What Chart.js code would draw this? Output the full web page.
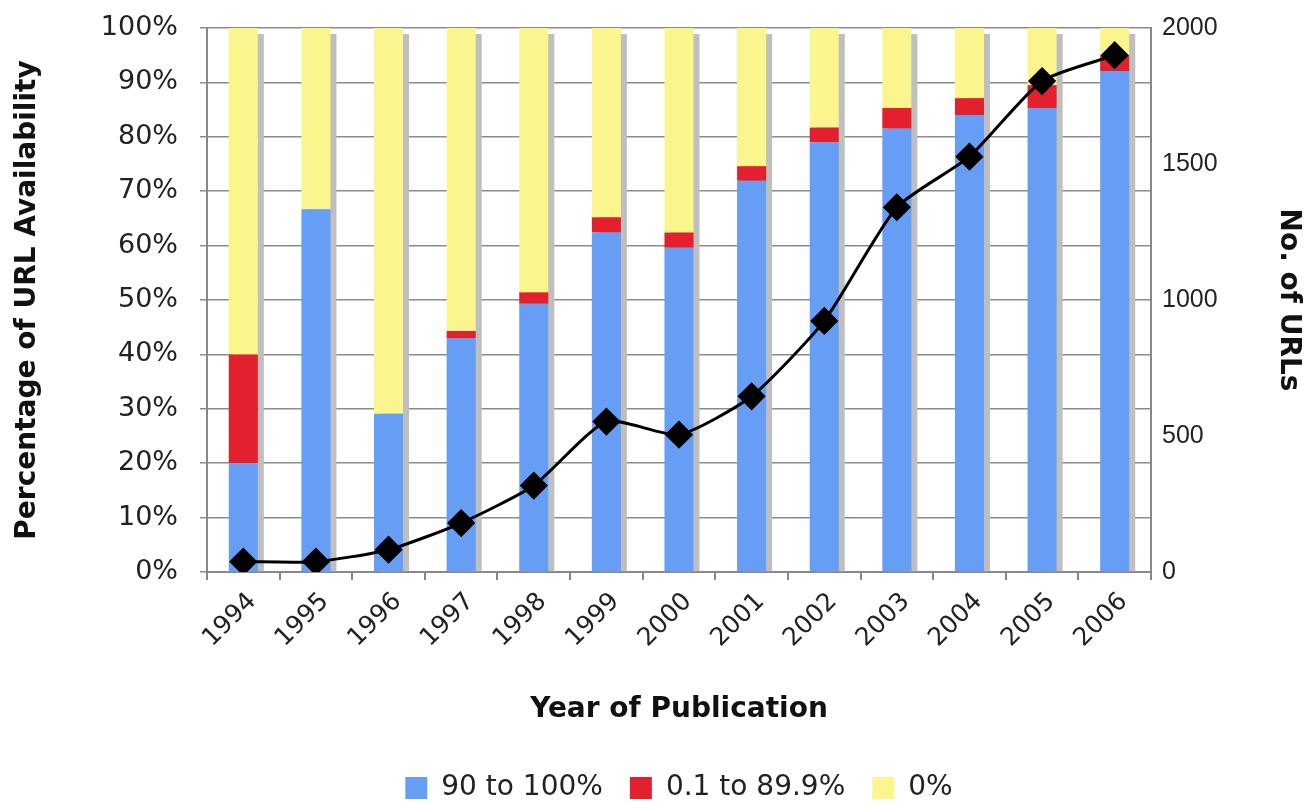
<!DOCTYPE html>
<html>
<head>
<meta charset="utf-8">
<script src="https://cdn.jsdelivr.net/npm/chart.js@4/dist/chart.umd.min.js"></script>
<style>
  html, body { margin: 0; padding: 0; background: #fff; }
</style>
</head>
<body>
<canvas id="canvas" width="1305" height="803"></canvas>
<script>
const years = ['1994', '1995', '1996', '1997', '1998', '1999', '2000', '2001', '2002', '2003', '2004', '2005', '2006']

// share of URLs per availability band (%)
const full = [20, 66.7, 29.1, 43, 49.3, 62.4, 59.6, 71.9, 79, 81.5, 84, 85.3, 92.1]
const partial = [20, 0, 0, 1.3, 2.1, 2.8, 2.8, 2.7, 2.7, 3.8, 3.1, 4.2, 2.9]
const none = [60, 33.3, 70.9, 55.7, 48.6, 34.8, 37.6, 25.4, 18.3, 14.7, 12.9, 10.5, 5]

// number of URLs (right axis)
const urlCounts = [38, 38, 82, 180, 318, 553, 505, 646, 923, 1341, 1527, 1805, 1900]

const pctTicks = [0, 10, 20, 30, 40, 50, 60, 70, 80, 90, 100]
const countTicks = [0, 500, 1000, 1500, 2000]

const titleFont = { family: 'DejaVu Sans', size: 28, weight: 'bold' }

// grey drop shadow to the right of each stacked bar
const barShadow = {
  id: 'barShadow',
  beforeDatasetsDraw(chart) {
    const ctx = chart.ctx
    const tops = chart.getDatasetMeta(2).data
    const bottoms = chart.getDatasetMeta(0).data
    ctx.save()
    ctx.fillStyle = '#bfbfbf'
    tops.forEach((bar, i) => {
      const p = bar.getProps(['x', 'y', 'width'], true)
      const base = bottoms[i].getProps(['base'], true).base
      ctx.fillRect(p.x - p.width / 2 + 6, p.y + 6, p.width, base - p.y - 6)
    })
    ctx.restore()
  }
}

// keep the tick padding from pushing the plot area down
const noEdgePad = s => { s.paddingTop = 0; s.paddingBottom = 0 }

const data = {
  labels: years,
  datasets: [
    {
      type: 'bar',
      label: '90 to 100%',
      data: full,
      backgroundColor: '#669ef5',
      yAxisID: 'y',
      order: 1,
    },
    {
      type: 'bar',
      label: '0.1 to 89.9%',
      data: partial,
      backgroundColor: '#e3202d',
      yAxisID: 'y',
      order: 1,
    },
    {
      type: 'bar',
      label: '0%',
      data: none,
      backgroundColor: '#faf58c',
      yAxisID: 'y',
      order: 1,
    },
    {
      type: 'line',
      label: 'No. of URLs',
      data: urlCounts,
      borderColor: '#000',
      backgroundColor: '#000',
      borderWidth: 3,
      pointStyle: 'rectRot',
      pointRadius: 12,
      tension: 0.2,
      yAxisID: 'y1',
      order: 0,
    },
  ],
}

const config = {
  type: 'bar',
  data: data,
  plugins: [barShadow],
  options: {
    responsive: false,
    animation: false,
    layout: { padding: { top: 28, left: 0, right: 0, bottom: -9 } },
    datasets: { bar: { barPercentage: 0.4, categoryPercentage: 1 } },
    plugins: {
      tooltip: { enabled: false },
      legend: {
        position: 'bottom',
        fullSize: false,
        labels: {
          font: { family: 'DejaVu Sans', size: 28 },
          color: '#222',
          boxWidth: 22,
          boxHeight: 22,
          padding: 27,
          filter: item => item.datasetIndex < 3,
        },
      },
    },
    scales: {
      x: {
        stacked: true,
        offset: true,
        grid: { offset: true, drawOnChartArea: false, tickLength: 8, color: '#888', lineWidth: 2 },
        border: { color: '#888', width: 2 },
        ticks: { font: { family: 'DejaVu Sans', size: 25 }, color: '#222', minRotation: 45, maxRotation: 45, padding: 7, labelOffset: 9 },
        title: { display: true, text: 'Year of Publication', font: titleFont, color: '#111', padding: { top: 0, bottom: 20 } },
        afterFit: s => { s.height = 175 },
      },
      y: {
        stacked: true,
        min: 0,
        max: 100,
        afterBuildTicks: s => { s.ticks = pctTicks.map(v => ({ value: v })) },
        ticks: { font: { family: 'DejaVu Sans', size: 27 }, color: '#222', padding: 22, callback: v => v + '%' },
        grid: { color: '#8c8c8c', lineWidth: 1.5, tickLength: 7 },
        border: { color: '#888', width: 2 },
        title: { display: true, text: 'Percentage of URL Availability', font: titleFont, color: '#111', padding: { top: 11, bottom: 0 } },
        afterFit: s => { s.width = 207; noEdgePad(s) },
      },
      y1: {
        position: 'right',
        min: 0,
        max: 2000,
        afterBuildTicks: s => { s.ticks = countTicks.map(v => ({ value: v })) },
        ticks: { font: { family: 'Liberation Sans', size: 25 }, color: '#222', padding: 11, callback: v => String(v) },
        grid: { drawOnChartArea: false, drawTicks: false },
        border: { color: '#888', width: 2 },
        title: { display: true, text: 'No. of URLs', font: titleFont, color: '#111', padding: { top: 0, bottom: 0 } },
        afterFit: s => { s.width = 154; noEdgePad(s) },
      },
    },
  },
}

const canvas = document.getElementById('canvas')
const chart = new Chart(canvas, config)
</script>
</body>
</html>
